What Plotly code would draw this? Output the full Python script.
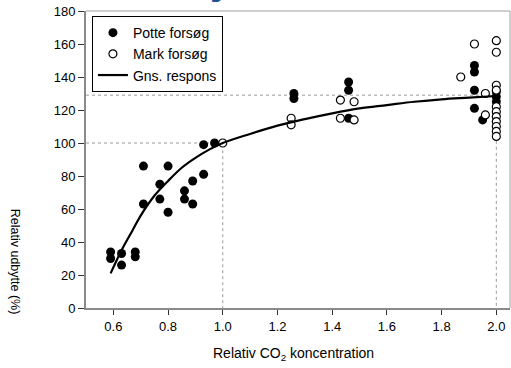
import plotly.graph_objects as go

# Potte forsøg (filled)
pot_x = [0.59, 0.59, 0.63, 0.63, 0.68, 0.68, 0.71, 0.71, 0.77, 0.77, 0.80, 0.80,
         0.86, 0.86, 0.89, 0.89, 0.93, 0.93, 0.97,
         1.26, 1.26, 1.46, 1.46, 1.46,
         1.92, 1.92, 1.92, 1.92, 1.95, 2.0, 2.0, 2.0]
pot_y = [34, 30, 33, 26, 34, 31, 86, 63, 75, 66, 86, 58,
         71, 66, 77, 63, 81, 99, 100,
         130, 127, 137, 132, 115,
         147, 143, 132, 121, 114, 131, 128, 125]

# Mark forsøg (open)
mark_x = [1.0, 1.25, 1.25, 1.43, 1.48, 1.43, 1.48,
          1.87, 1.92, 1.96, 1.96,
          2.0, 2.0, 2.0, 2.0, 2.0, 2.0, 2.0, 2.0, 2.0, 2.0, 2.0]
mark_y = [100, 115, 111, 126, 125, 115, 114,
          140, 160, 130, 117,
          162, 155, 135, 132, 122, 119, 116, 113, 110, 107, 104]

# Gns. respons (mean response curve)
curve_x = [0.59, 0.63, 0.67, 0.70, 0.75, 0.80, 0.85, 0.90, 0.95, 1.0,
           1.1, 1.2, 1.3, 1.4, 1.5, 1.6, 1.7, 1.8, 1.9, 2.0]
curve_y = [21, 35, 47, 56, 68, 77, 85, 91, 96, 100,
           105.5, 110.5, 114.5, 118, 121, 123, 125, 126.5, 127.5, 128.5]

x_ticks = [0.6, 0.8, 1.0, 1.2, 1.4, 1.6, 1.8, 2.0]
y_ticks = [0, 20, 40, 60, 80, 100, 120, 140, 160, 180]

FONT = "Liberation Sans, Arial, sans-serif"
GRAY = "#8a8a8a"
DOT = "#9a9a9a"

fig = go.Figure()

# reference dotted lines
fig.add_trace(go.Scatter(x=[0.5, 1.0, 1.0], y=[100, 100, 0], mode="lines",
                         line=dict(color=DOT, width=1, dash="dot"),
                         showlegend=False, hoverinfo="skip"))
fig.add_trace(go.Scatter(x=[0.5, 2.0, 2.0], y=[129, 129, 0], mode="lines",
                         line=dict(color=DOT, width=1, dash="dot"),
                         showlegend=False, hoverinfo="skip"))

fig.add_trace(go.Scatter(x=pot_x, y=pot_y, mode="markers", name="Potte forsøg",
                         marker=dict(color="black", size=9, line=dict(width=0))))
fig.add_trace(go.Scatter(x=mark_x, y=mark_y, mode="markers", name="Mark forsøg",
                         marker=dict(color="white", size=8, line=dict(color="black", width=1.2))))
fig.add_trace(go.Scatter(x=curve_x, y=curve_y, mode="lines", name="Gns. respons",
                         line=dict(color="black", width=2.2, shape="spline")))

fig.update_layout(
    width=511, height=368,
    margin=dict(l=86, r=1, t=11, b=60),
    paper_bgcolor="white", plot_bgcolor="white",
    font=dict(family=FONT, size=13, color="black"),
    showlegend=True,
    legend=dict(x=0.014, y=0.983, xanchor="left", yanchor="top",
                bordercolor="black", borderwidth=1, bgcolor="white",
                font=dict(size=14), tracegroupgap=0),
    xaxis=dict(range=[0.5, 2.05], tickvals=x_ticks,
               ticktext=[f"{v:.1f}" for v in x_ticks],
               showgrid=False, zeroline=False,
               showline=True, linecolor=GRAY, linewidth=2,
               ticks="outside", ticklen=5, tickcolor="#333", tickwidth=1),
    yaxis=dict(range=[0, 180], tickvals=y_ticks,
               showgrid=False, zeroline=False,
               showline=True, linecolor=GRAY, linewidth=2,
               ticks="outside", ticklen=6, tickcolor="#333", tickwidth=1),
    shapes=[
        dict(type="line", xref="paper", yref="paper", x0=0, x1=1, y0=1, y1=1,
             line=dict(color="#a0a0a0", width=1)),
        dict(type="line", xref="paper", yref="paper", x0=1, x1=1, y0=0, y1=1,
             line=dict(color="#a0a0a0", width=1)),
    ],
    annotations=[
        dict(text="Relativ udbytte (%)", xref="paper", yref="paper",
             x=-0.167, y=0.155, textangle=90, showarrow=False,
             xanchor="center", yanchor="middle", font=dict(size=12.5)),
        dict(text="Relativ CO<sub>2</sub> koncentration", xref="paper", yref="paper",
             x=0.49, y=-0.155, showarrow=False,
             xanchor="center", yanchor="middle", font=dict(size=14)),
        # cut-off fragment of a title above the chart
        dict(text="<b>y</b>", xref="paper", yref="paper",
             x=0.32, y=1.022, showarrow=False,
             xanchor="center", yanchor="bottom",
             font=dict(size=40, color="#1c4f9c")),
    ],
)

fig.write_html("out.html")
